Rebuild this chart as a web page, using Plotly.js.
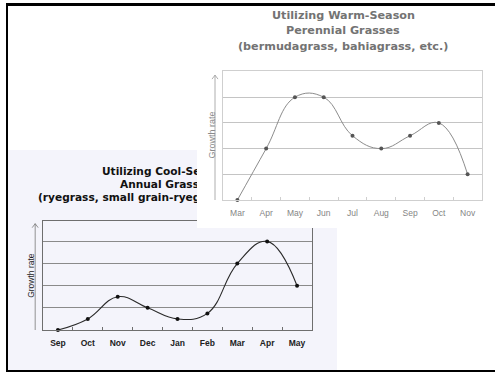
<!DOCTYPE html>
<html>
<head>
<meta charset="utf-8">
<script src="https://cdn.plot.ly/plotly-3.0.1.min.js"></script>
<style>
html,body{margin:0;padding:0;background:#fff;width:495px;height:372px;overflow:hidden;}
#frame{position:absolute;left:6px;top:3px;width:500px;height:364px;border-top:3px solid #000;border-left:2px solid #000;border-bottom:3px solid #000;z-index:5;pointer-events:none;}
#cool{position:absolute;left:8px;top:150px;width:329px;height:220px;z-index:1;}
#warm{position:absolute;left:197px;top:0px;width:298px;height:228px;z-index:2;background:#fff;}
</style>
</head>
<body>
<div id="frame"></div>
<div id="cool"></div>
<div id="warm"></div>
<script>
// Warm-season chart data
const warmMonths = ["Mar","Apr","May","Jun","Jul","Aug","Sep","Oct","Nov"];
const warmGrowth = [0, 2, 4, 4, 2.5, 2, 2.5, 3, 1];
const warmTitle = ["Utilizing Warm-Season", "Perennial Grasses", "(bermudagrass, bahiagrass, etc.)"];

// Cool-season chart data
const coolMonths = ["Sep","Oct","Nov","Dec","Jan","Feb","Mar","Apr","May"];
const coolGrowth = [0, 0.5, 1.5, 1, 0.5, 0.75, 3, 4, 2];
const coolTitle = ["Utilizing Cool-Season", "Annual Grasses", "(ryegrass, small grain-ryegrass, etc.)"];

const yTitle = "Growth rate";
const FONT = "Liberation Sans, Arial, sans-serif";
const TFONT = "DejaVu Sans, Liberation Sans, sans-serif";

function makeChart(div, cfg) {
  const W = cfg.W, H = cfg.H;
  const trace = {
    x: cfg.months, y: cfg.values, type: "scatter", mode: "lines+markers",
    line: {shape: "spline", smoothing: 1.2, color: cfg.lineColor, width: cfg.lineWidth},
    marker: {size: 4, color: cfg.markerColor},
    cliponaxis: false, hoverinfo: "none"
  };
  const ann = [];
  cfg.title.forEach((t, i) => {
    ann.push({text: t, xref: "paper", yref: "paper", x: cfg.titleX[i], y: cfg.titleY[i],
      xanchor: cfg.titleAnchor, yanchor: "middle", showarrow: false,
      font: {family: TFONT, size: cfg.titleSize, color: cfg.titleColor, weight: 700}});
  });
  ann.push({text: yTitle, xref: "paper", yref: "paper", x: cfg.yTitleX, y: 0.5,
    textangle: -90, xanchor: "center", yanchor: "middle", showarrow: false,
    font: {family: FONT, size: cfg.yTitleSize, color: cfg.yTitleColor}});
  const shapes = [
    {type: "line", xref: "paper", yref: "y", x0: cfg.arrowX, x1: cfg.arrowX, y0: 0, y1: cfg.arrowTop,
      line: {color: cfg.arrowColor, width: 0.8}},
    {type: "path", xref: "paper", yref: "y", xsizemode: "pixel", ysizemode: "pixel",
      xanchor: cfg.arrowX, yanchor: cfg.arrowTop, path: "M-3,-4L0,0L3,-4",
      line: {color: cfg.arrowColor, width: 0.8}}
  ];
  const layout = {
    width: W, height: H,
    margin: cfg.margin,
    paper_bgcolor: cfg.bg, plot_bgcolor: cfg.bg,
    showlegend: false,
    xaxis: {type: "category", range: [-0.5, 8.5], showline: true, mirror: true,
      linecolor: cfg.boxColor, linewidth: 1, showgrid: false, zeroline: false,
      ticks: "inside", ticklen: 3, tickcolor: cfg.boxColor, tickson: "boundaries",
      ticklabelstandoff: cfg.tickStandoff,
      tickfont: {family: FONT, size: cfg.tickSize, color: cfg.tickColor, weight: cfg.tickWeight},
      fixedrange: true},
    yaxis: {range: [0, cfg.yMax], dtick: 1, showticklabels: false, showgrid: true,
      gridcolor: cfg.gridColor, gridwidth: 1, zeroline: false, showline: true, mirror: true,
      linecolor: cfg.boxColor, ticks: "", fixedrange: true},
    annotations: ann,
    shapes: shapes
  };
  Plotly.newPlot(div, [trace], layout, {staticPlot: true, displayModeBar: false});
}

// Warm: plot area abs x 223..482, y 71..200 ; div at (197,0) 298x228
const wc = (146 - 26) / 259;
makeChart("warm", {
  W: 298, H: 228, months: warmMonths, values: warmGrowth, title: warmTitle,
  margin: {l: 26, r: 13, t: 71, b: 28, pad: 0},
  bg: "#ffffff", lineColor: "#8c8c8c", lineWidth: 1, markerColor: "#555555",
  boxColor: "#cfcfcf", gridColor: "#c4c4c4", tickColor: "#858585", tickSize: 8.5, tickWeight: 400,
  tickStandoff: 5,
  yMax: 5.02, titleSize: 11.2, titleColor: "#737373", titleAnchor: "center",
  titleX: [wc, wc, wc], titleY: [(200 - 16) / 129, (200 - 31) / 129, (200 - 46) / 129],
  yTitleX: (211 - 223) / 259, yTitleSize: 9, yTitleColor: "#8a8a8a",
  arrowX: (215 - 223) / 259, arrowTop: 4.86, arrowColor: "#9a9a9a"
});

// Cool: plot area abs x 43..312, y 221..330 ; div at (8,150) 329x220
const cl = [100, 117.7, 36].map(v => (v - 43.3) / 268.4);
makeChart("cool", {
  W: 329, H: 220, months: coolMonths, values: coolGrowth, title: coolTitle,
  margin: {l: 35, r: 25, t: 71, b: 40, pad: 0},
  bg: "#f4f4fb", lineColor: "#2a2a2a", lineWidth: 1.1, markerColor: "#111111",
  boxColor: "#6e6e6e", gridColor: "#8a8a8a", tickColor: "#222222", tickSize: 8.5, tickWeight: 700,
  tickStandoff: 5,
  yMax: 4.92, titleSize: 10.6, titleColor: "#111111", titleAnchor: "left",
  titleX: cl, titleY: [(330.3 - 170.9) / 109.6, (330.3 - 183.6) / 109.6, (330.3 - 196.2) / 109.6],
  yTitleX: (30.7 - 43.3) / 268.4, yTitleSize: 8.5, yTitleColor: "#222222",
  arrowX: (35.5 - 43.3) / 268.4, arrowTop: 4.8, arrowColor: "#777777"
});
</script>
</body>
</html>
